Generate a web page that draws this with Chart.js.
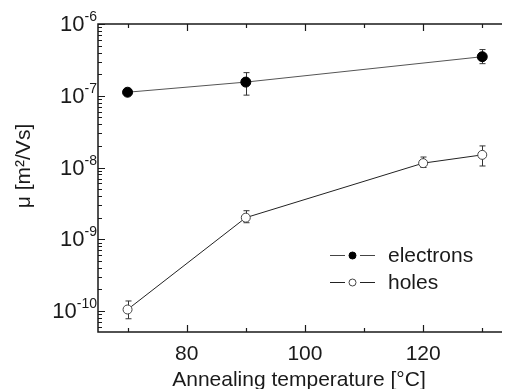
<!DOCTYPE html>
<html>
<head>
<meta charset="utf-8">
<script src="https://cdn.jsdelivr.net/npm/chart.js@4.4.1/dist/chart.umd.min.js"></script>
<style>
  html, body { margin: 0; padding: 0; background: #fff; overflow: hidden; }
</style>
</head>
<body>
<canvas id="chart" width="506" height="389"></canvas>
<script>
const electronTemps = [70, 90, 130];
const electronMu = [1.12e-7, 1.55e-7, 3.5e-7];
const electronLow = [1.05e-7, 1.02e-7, 2.8e-7];
const electronHigh = [1.2e-7, 2.1e-7, 4.4e-7];

const holeTemps = [70, 90, 120, 130];
const holeMu = [1.05e-10, 2.0e-9, 1.15e-8, 1.5e-8];
const holeLow = [7.8e-11, 1.7e-9, 1.0e-8, 1.05e-8];
const holeHigh = [1.38e-10, 2.5e-9, 1.4e-8, 2.0e-8];

const xMajor = [80, 100, 120];
const xMinor = [70, 90, 110, 130];
const decades = [-10, -9, -8, -7, -6];

const FONT = "'Liberation Sans', Arial, sans-serif";
const INK = "#1a1a1a";

function points(xs, ys) {
  return xs.map((x, i) => ({ x: x, y: ys[i] }));
}

const errorSets = [
  { temps: electronTemps, low: electronLow, high: electronHigh },
  { temps: holeTemps, low: holeLow, high: holeHigh }
];

const decor = {
  id: "decor",
  beforeDatasetsDraw(chart) {
    const { ctx, scales: { x, y } } = chart;
    ctx.save();
    ctx.strokeStyle = "#333";
    ctx.lineWidth = 1;
    errorSets.forEach((set) => {
      set.temps.forEach((t, i) => {
        const px = Math.round(x.getPixelForValue(t)) + 0.5;
        const top = y.getPixelForValue(set.high[i]);
        const bot = y.getPixelForValue(set.low[i]);
        ctx.beginPath();
        ctx.moveTo(px, top);
        ctx.lineTo(px, bot);
        ctx.moveTo(px - 3, top);
        ctx.lineTo(px + 3, top);
        ctx.moveTo(px - 3, bot);
        ctx.lineTo(px + 3, bot);
        ctx.stroke();
      });
    });
    ctx.restore();
  },
  afterDraw(chart) {
    const { ctx, chartArea: a, scales: { x, y } } = chart;
    ctx.save();

    // frame (right edge is off the picture)
    ctx.strokeStyle = INK;
    ctx.lineWidth = 1.5;
    ctx.beginPath();
    ctx.moveTo(a.right + 2, a.top);
    ctx.lineTo(a.left, a.top);
    ctx.lineTo(a.left, a.bottom);
    ctx.lineTo(a.right + 2, a.bottom);
    ctx.stroke();

    // x ticks, inward on top and bottom
    ctx.lineWidth = 1.2;
    ctx.beginPath();
    xMajor.concat(xMinor).forEach((v) => {
      const len = xMajor.includes(v) ? 7 : 4;
      const px = Math.round(x.getPixelForValue(v)) + 0.5;
      ctx.moveTo(px, a.top);
      ctx.lineTo(px, a.top + len);
      ctx.moveTo(px, a.bottom);
      ctx.lineTo(px, a.bottom - len);
    });

    // y ticks, inward on the left (decades long, 2..9 short)
    for (let d = -11; d <= -6; d++) {
      for (let k = 1; k <= 9; k++) {
        const v = k * Math.pow(10, d);
        if (v < y.min || v > y.max) continue;
        const py = Math.round(y.getPixelForValue(v)) + 0.5;
        ctx.moveTo(a.left, py);
        ctx.lineTo(a.left + (k === 1 ? 7 : 4), py);
      }
    }
    ctx.stroke();

    // y tick labels 10^n
    ctx.fillStyle = INK;
    decades.forEach((d) => {
      const py = y.getPixelForValue(Math.pow(10, d));
      const sup = "-" + Math.abs(d);
      ctx.font = "14px " + FONT;
      const sw = ctx.measureText(sup).width;
      const right = 97;
      ctx.textAlign = "left";
      ctx.textBaseline = "alphabetic";
      ctx.fillText(sup, right - sw, py - 3);
      ctx.font = "22px " + FONT;
      ctx.textAlign = "right";
      ctx.textBaseline = "middle";
      ctx.fillText("10", right - sw, py + 1);
    });

    // y title
    ctx.save();
    ctx.translate(24, 166);
    ctx.rotate(-Math.PI / 2);
    ctx.font = "21px " + FONT;
    ctx.textAlign = "center";
    ctx.textBaseline = "middle";
    ctx.fillText("\u03bc [m\u00b2/Vs]", 0, 0);
    ctx.restore();

    // legend
    const rows = [
      { y: 255, label: "electrons", fill: "#000", stroke: "#000", line: "#444" },
      { y: 282, label: "holes", fill: "#fff", stroke: "#444", line: "#222" }
    ];
    rows.forEach((r) => {
      ctx.strokeStyle = r.line;
      ctx.lineWidth = 1;
      ctx.beginPath();
      ctx.moveTo(330, r.y + 0.5);
      ctx.lineTo(345, r.y + 0.5);
      ctx.moveTo(360, r.y + 0.5);
      ctx.lineTo(375, r.y + 0.5);
      ctx.stroke();
      ctx.beginPath();
      ctx.arc(352.5, r.y + 0.5, 3.5, 0, Math.PI * 2);
      ctx.fillStyle = r.fill;
      ctx.fill();
      ctx.strokeStyle = r.stroke;
      ctx.stroke();
      ctx.fillStyle = INK;
      ctx.font = "21px " + FONT;
      ctx.textAlign = "left";
      ctx.textBaseline = "middle";
      ctx.fillText(r.label, 388, r.y + 1);
    });

    ctx.restore();
  }
};

new Chart(document.getElementById("chart"), {
  type: "line",
  data: {
    datasets: [
      {
        label: "electrons",
        data: points(electronTemps, electronMu),
        borderColor: "#555",
        borderWidth: 1,
        pointRadius: 5,
        pointBackgroundColor: "#000",
        pointBorderColor: "#000",
        pointBorderWidth: 1
      },
      {
        label: "holes",
        data: points(holeTemps, holeMu),
        borderColor: "#222",
        borderWidth: 1,
        pointRadius: 4.5,
        pointBackgroundColor: "#fff",
        pointBorderColor: "#444",
        pointBorderWidth: 1
      }
    ]
  },
  options: {
    responsive: false,
    animation: false,
    layout: { padding: { top: 24, left: 0, right: 0, bottom: 0 } },
    plugins: { legend: { display: false }, tooltip: { enabled: false } },
    scales: {
      x: {
        type: "linear",
        min: 65,
        max: 133,
        grid: { display: false },
        border: { display: false },
        afterBuildTicks: (s) => { s.ticks = xMajor.map((v) => ({ value: v })); },
        afterFit: (s) => { s.height = 57; },
        ticks: { color: INK, font: { family: FONT, size: 21 }, padding: 2, maxRotation: 0 },
        title: {
          display: true,
          text: "Annealing temperature [\u00b0C]",
          color: INK,
          font: { family: FONT, size: 21 },
          padding: { top: 0, bottom: -4 }
        }
      },
      y: {
        type: "logarithmic",
        min: 5.1e-11,
        max: 1e-6,
        grid: { display: false },
        border: { display: false },
        ticks: { display: false },
        afterFit: (s) => { s.width = 98; }
      }
    }
  },
  plugins: [decor]
});
</script>
</body>
</html>
